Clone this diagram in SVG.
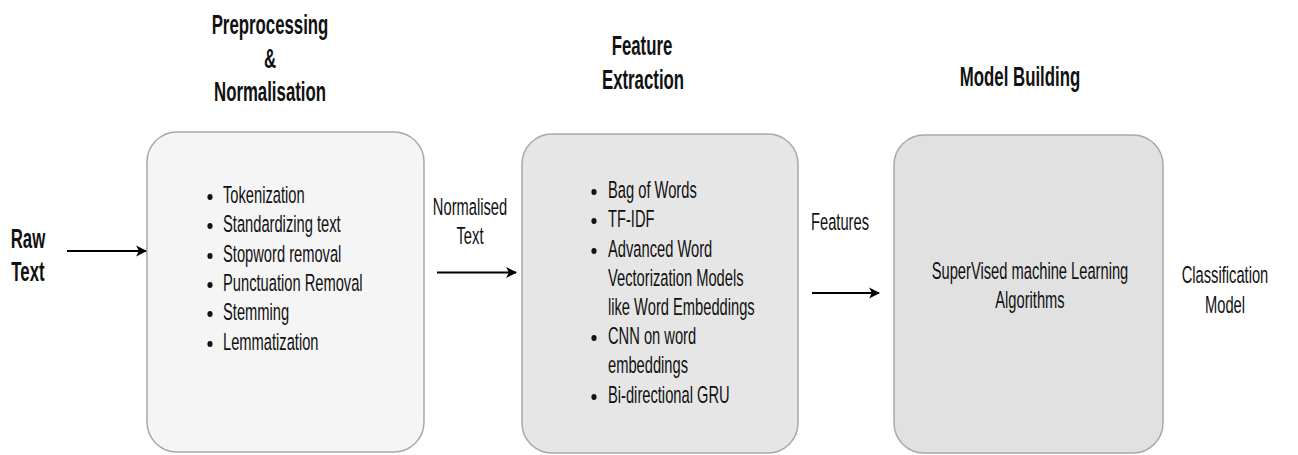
<svg xmlns="http://www.w3.org/2000/svg" width="1298" height="455" viewBox="0 0 1298 455">
  <style>
    text { font-family: "Liberation Sans", Arial, sans-serif; fill: #111; }
    .title { font-size: 28px; font-weight: bold; }
    .body { font-size: 24.5px; }
    .mid { text-anchor: middle; }
    .box { stroke: #a8a8a8; stroke-width: 1.5; }
    .edge { stroke: #000; stroke-width: 2; fill: none; }
    .dot { fill: #111; }
  </style>
  <defs>
    <marker id="arrow" viewBox="0 0 10 10" refX="9" refY="5" markerWidth="5.5" markerHeight="7" markerUnits="strokeWidth" orient="auto">
      <path d="M0,0 L10,5 L0,10 L2.5,5 Z" fill="#000"/>
    </marker>
  </defs>

  <rect width="1298" height="455" fill="#fff"/>

  <!-- input label -->
  <g id="raw-text">
    <text class="title mid" transform="translate(28,248) scale(0.6,1)">Raw</text>
    <text class="title mid" transform="translate(28,281) scale(0.6,1)">Text</text>
  </g>

  <!-- stage 1: preprocessing -->
  <g id="preprocessing">
    <text class="title mid" transform="translate(270,34) scale(0.6,1)">Preprocessing</text>
    <text class="title mid" transform="translate(270,68) scale(0.6,1)">&amp;</text>
    <text class="title mid" transform="translate(270,101) scale(0.6,1)">Normalisation</text>
    <rect class="box" x="147" y="132" width="277" height="320" rx="30" fill="#f5f5f5"/>
    <g class="dot">
      <ellipse cx="210" cy="197" rx="2.6" ry="3"/>
      <ellipse cx="210" cy="226" rx="2.6" ry="3"/>
      <ellipse cx="210" cy="256" rx="2.6" ry="3"/>
      <ellipse cx="210" cy="285" rx="2.6" ry="3"/>
      <ellipse cx="210" cy="314" rx="2.6" ry="3"/>
      <ellipse cx="210" cy="344" rx="2.6" ry="3"/>
    </g>
    <text class="body" transform="translate(223,203) scale(0.6,1)">Tokenization</text>
    <text class="body" transform="translate(223,232) scale(0.6,1)">Standardizing text</text>
    <text class="body" transform="translate(223,262) scale(0.6,1)">Stopword removal</text>
    <text class="body" transform="translate(223,291) scale(0.6,1)">Punctuation Removal</text>
    <text class="body" transform="translate(223,320) scale(0.6,1)">Stemming</text>
    <text class="body" transform="translate(223,350) scale(0.6,1)">Lemmatization</text>
  </g>

  <!-- stage 2: feature extraction -->
  <g id="feature-extraction">
    <text class="title mid" transform="translate(642,55) scale(0.6,1)">Feature</text>
    <text class="title mid" transform="translate(643,89) scale(0.6,1)">Extraction</text>
    <rect class="box" x="522" y="134" width="276" height="319" rx="30" fill="#e6e6e6"/>
    <g class="dot">
      <ellipse cx="594" cy="192" rx="2.6" ry="3"/>
      <ellipse cx="594" cy="221" rx="2.6" ry="3"/>
      <ellipse cx="594" cy="251" rx="2.6" ry="3"/>
      <ellipse cx="594" cy="338" rx="2.6" ry="3"/>
      <ellipse cx="594" cy="397" rx="2.6" ry="3"/>
    </g>
    <text class="body" transform="translate(608,198) scale(0.6,1)">Bag of Words</text>
    <text class="body" transform="translate(608,227) scale(0.6,1)">TF-IDF</text>
    <text class="body" transform="translate(608,257) scale(0.6,1)">Advanced Word</text>
    <text class="body" transform="translate(608,286) scale(0.6,1)">Vectorization Models</text>
    <text class="body" transform="translate(608,315) scale(0.6,1)">like Word Embeddings</text>
    <text class="body" transform="translate(608,344) scale(0.6,1)">CNN on word</text>
    <text class="body" transform="translate(608,373) scale(0.6,1)">embeddings</text>
    <text class="body" transform="translate(608,403) scale(0.6,1)">Bi-directional GRU</text>
  </g>

  <!-- stage 3: model building -->
  <g id="model-building">
    <text class="title mid" transform="translate(1020,86) scale(0.6,1)">Model Building</text>
    <rect class="box" x="894" y="135" width="269" height="318" rx="30" fill="#e1e1e1"/>
    <text class="body mid" transform="translate(1030,279) scale(0.6,1)">SuperVised machine Learning</text>
    <text class="body mid" transform="translate(1030,308) scale(0.6,1)">Algorithms</text>
  </g>

  <!-- output label -->
  <g id="classification-model">
    <text class="body mid" transform="translate(1225,283) scale(0.6,1)">Classification</text>
    <text class="body mid" transform="translate(1225,313) scale(0.6,1)">Model</text>
  </g>

  <!-- connectors -->
  <g id="connectors">
    <line class="edge" x1="67" y1="251" x2="146" y2="251" marker-end="url(#arrow)"/>
    <line class="edge" x1="437" y1="272.5" x2="516" y2="272.5" marker-end="url(#arrow)"/>
    <text class="body mid" transform="translate(470,215) scale(0.6,1)">Normalised</text>
    <text class="body mid" transform="translate(470,244) scale(0.6,1)">Text</text>
    <line class="edge" x1="812" y1="293" x2="879" y2="293" marker-end="url(#arrow)"/>
    <text class="body mid" transform="translate(840,230) scale(0.6,1)">Features</text>
  </g>
</svg>
